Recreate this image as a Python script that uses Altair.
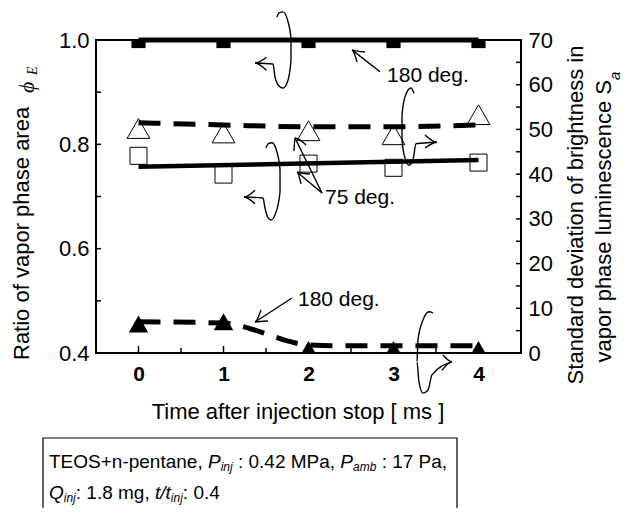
import altair as alt
import pandas as pd

FONT = "Liberation Sans, Arial, Helvetica, sans-serif"
SERIF = "Liberation Serif, Times New Roman, serif"

# ---------------- data ----------------
t = [0, 1, 2, 3, 4]
# left axis: ratio of vapor phase area phi_E
phi_180_pts = [0.998, 0.998, 0.998, 0.998, 0.998]
fit_x = [0, 4]
phi_180_fit = [1.0, 1.0]
phi_75_pts = [0.778, 0.742, 0.763, 0.755, 0.765]
phi_75_fit = [0.757, 0.770]
# right axis: standard deviation of brightness S_a
sa_75_pts = [50.2, 49.2, 49.7, 48.8, 53.3]
sa_75_fit_x = [0, 1, 2, 3, 4]
sa_75_fit = [51.5, 51.0, 50.6, 50.6, 51.0]
sa_180_pts = [6.5, 7.0, 0.8, 0.8, 0.8]
sa_180_fit_x = [0, 1, 1.25, 1.5, 1.75, 2, 2.5, 3, 4]
sa_180_fit = [7.0, 6.7, 5.8, 4.3, 2.7, 1.8, 1.6, 1.6, 1.6]

left_ticks_major = [0.4, 0.6, 0.8, 1.0]
left_ticks_minor = [0.5, 0.7, 0.9]
right_ticks_major = [0, 10, 20, 30, 40, 50, 60, 70]
right_ticks_minor = [5, 15, 25, 35, 45, 55, 65]
x_ticks_major = [0, 1, 2, 3, 4]
x_ticks_minor = [0.5, 1.5, 2.5, 3.5]

# annotation paths, in data units (time, left-axis value)
curl1_x = [1.371, 1.582, 1.606, 1.653, 1.700, 1.759, 1.794, 1.794, 1.759, 1.700, 1.653, 1.629]
curl1_y = [0.956, 0.954, 0.929, 0.912, 0.908, 0.923, 0.962, 1.004, 1.035, 1.054, 1.052, 1.044]
head1_x = [1.506, 1.371, 1.506]
head1_y = [0.967, 0.956, 0.942]
curl2_x = [1.241, 1.465, 1.488, 1.524, 1.559, 1.618, 1.665, 1.665, 1.629, 1.571, 1.524, 1.500]
curl2_y = [0.699, 0.697, 0.678, 0.659, 0.655, 0.670, 0.709, 0.751, 0.785, 0.803, 0.801, 0.793]
head2_x = [1.371, 1.241, 1.371]
head2_y = [0.712, 0.699, 0.686]
curl3_x = [3.241, 3.206, 3.135, 3.100, 3.100, 3.135, 3.182, 3.229, 3.265, 3.512]
curl3_y = [0.898, 0.908, 0.891, 0.856, 0.808, 0.774, 0.760, 0.770, 0.801, 0.804]
head3_x = [3.371, 3.512, 3.371]
head3_y = [0.818, 0.804, 0.793]
curl4_x = [3.465, 3.418, 3.347, 3.288, 3.276, 3.300, 3.347, 3.406, 3.453, 3.688]
curl4_y = [0.477, 0.479, 0.463, 0.425, 0.383, 0.344, 0.323, 0.329, 0.358, 0.383]
head4_x = [3.582, 3.688, 3.571]
head4_y = [0.396, 0.383, 0.367]
arrA_x = [2.841, 2.512]
arrA_y = [0.939, 0.981]
headA_x = [2.571, 2.512, 2.665]
headA_y = [0.958, 0.981, 0.977]
arrB_x = [1.806, 1.371]
arrB_y = [0.5054, 0.4594]
headB_x = [1.524, 1.371, 1.441]
headB_y = [0.4614, 0.4594, 0.4824]
arrC_x = [2.159, 1.841]
arrC_y = [0.7067, 0.8121]
headC_x = [1.829, 1.841, 1.971]
headC_y = [0.7872, 0.8121, 0.7987]
arrD_x = [2.159, 1.865]
arrD_y = [0.7067, 0.7470]
headD_x = [1.912, 1.865, 2.018]
headD_y = [0.7240, 0.7470, 0.7431]

labels_txt = ["180 deg.", "180 deg.", "75 deg."]
labels_x = [2.924, 1.876, 2.194]
labels_y = [0.931, 0.5016, 0.6971]

# ---------------- scales / axes ----------------
xs = alt.Scale(domain=[-0.5, 4.5], nice=False, zero=False)
yl = alt.Scale(domain=[0.4, 1.0], nice=False, zero=False)
yr = alt.Scale(domain=[0, 70], nice=False, zero=False)

x_axis = alt.Axis(values=x_ticks_major, format="d", ticks=False, tickSize=0, domain=False,
                  grid=False, title=None, labelFont=FONT, labelFontSize=21,
                  labelFontWeight="bold", labelPadding=10, labelColor="black")
yl_axis = alt.Axis(orient="left", values=left_ticks_major, format=".1f", ticks=False, tickSize=0,
                   domain=False, grid=False, title=None, labelFont=FONT, labelFontSize=22,
                   labelPadding=7, labelColor="black")
yr_axis = alt.Axis(orient="right", values=right_ticks_major, format="d", ticks=False, tickSize=0,
                   domain=False, grid=False, title=None, labelFont=FONT, labelFontSize=22,
                   labelPadding=7, labelColor="black")


def X():
    return alt.X("x:Q", scale=xs, axis=x_axis)


def YL():
    return alt.Y("y:Q", scale=yl, axis=yl_axis)


def YR():
    return alt.Y("y:Q", scale=yr, axis=yr_axis)


def df(xv, yv):
    return pd.DataFrame({"x": xv, "y": yv})


# ---------------- left-axis layers ----------------
l_line180 = alt.Chart(df(fit_x, phi_180_fit)).mark_line(color="black", strokeWidth=5).encode(
    x=X(), y=YL())
l_sq180 = alt.Chart(df(t, phi_180_pts)).mark_square(color="black", size=200, clip=True, opacity=1).encode(
    x=X(), y=YL())
l_line75 = alt.Chart(df(fit_x, phi_75_fit)).mark_line(color="black", strokeWidth=4.5).encode(
    x=X(), y=YL())
l_sq75 = alt.Chart(df(t, phi_75_pts)).mark_point(shape="square", filled=False, size=290,
                                                  color="black", strokeWidth=1, opacity=1).encode(
    x=X(), y=YL())

paths = [
    (curl1_x, curl1_y), (head1_x, head1_y),
    (curl2_x, curl2_y), (head2_x, head2_y),
    (curl3_x, curl3_y), (head3_x, head3_y),
    (curl4_x, curl4_y), (head4_x, head4_y),
    (arrA_x, arrA_y), (headA_x, headA_y),
    (arrB_x, arrB_y), (headB_x, headB_y),
    (arrC_x, arrC_y), (headC_x, headC_y),
    (arrD_x, arrD_y), (headD_x, headD_y),
]
rows = []
for i, (px, py) in enumerate(paths):
    for j, (a, b) in enumerate(zip(px, py)):
        rows.append({"x": a, "y": b, "p": i, "o": j})
ann_df = pd.DataFrame(rows)
l_ann = alt.Chart(ann_df).mark_line(color="black", strokeWidth=1.4, interpolate="monotone",
                                    clip=False).encode(
    x=X(), y=YL(), detail="p:N", order="o:Q")

l_lab = alt.Chart(pd.DataFrame({"x": labels_x, "y": labels_y, "s": labels_txt})).mark_text(
    align="left", baseline="middle", font=FONT, fontSize=21, color="black").encode(
    x=X(), y=YL(), text="s:N")

l_tmaj = alt.Chart(pd.DataFrame({"y": left_ticks_major})).mark_rule(color="black", strokeWidth=1.5).encode(
    y=YL(), x=alt.value(0), x2=alt.value(5))
l_tmin = alt.Chart(pd.DataFrame({"y": left_ticks_minor})).mark_rule(color="black", strokeWidth=1.5).encode(
    y=YL(), x=alt.value(0), x2=alt.value(5))
x_tmaj = alt.Chart(pd.DataFrame({"x": x_ticks_major})).mark_rule(color="black", strokeWidth=1.5).encode(
    x=X(), y=alt.value(306), y2=alt.value(313))
x_tmin = alt.Chart(pd.DataFrame({"x": x_ticks_minor})).mark_rule(color="black", strokeWidth=1.5).encode(
    x=X(), y=alt.value(308), y2=alt.value(313))

left = alt.layer(l_line180, l_sq180, l_line75, l_sq75, l_ann, l_lab, l_tmaj, l_tmin, x_tmaj, x_tmin)

# ---------------- right-axis layers ----------------
r_line75 = alt.Chart(df(sa_75_fit_x, sa_75_fit)).mark_line(
    color="black", strokeWidth=5, strokeDash=[22, 13], interpolate="monotone").encode(
    x=X(), y=YR())
r_tri75 = alt.Chart(df(t, sa_75_pts)).mark_point(shape="triangle-up", filled=False, size=520,
                                                  color="black", strokeWidth=1, opacity=1).encode(
    x=X(), y=YR())
r_line180 = alt.Chart(df(sa_180_fit_x, sa_180_fit)).mark_line(
    color="black", strokeWidth=5, strokeDash=[22, 13], interpolate="monotone").encode(
    x=X(), y=YR())
r_tri180 = alt.Chart(df(t, sa_180_pts)).mark_point(shape="triangle-up", filled=True, size=380,
                                                    color="black", opacity=1, clip=True).encode(
    x=X(), y=YR())
r_tmaj = alt.Chart(pd.DataFrame({"y": right_ticks_major})).mark_rule(color="black", strokeWidth=1.5).encode(
    y=YR(), x=alt.value(420), x2=alt.value(425))
r_tmin = alt.Chart(pd.DataFrame({"y": right_ticks_minor})).mark_rule(color="black", strokeWidth=1.5).encode(
    y=YR(), x=alt.value(420), x2=alt.value(425))

right = alt.layer(r_line75, r_tri75, r_line180, r_tri180, r_tmaj, r_tmin)


# ---------------- titles and info box (page layout) ----------------
def txt(s, px, py, size=22, style="normal", angle=0, align="left", font=FONT):
    return alt.Chart(pd.DataFrame({"s": [s]})).mark_text(
        align=align, baseline="middle", angle=angle, fontSize=size, fontStyle=style,
        font=font, color="black").encode(x=alt.value(px), y=alt.value(py), text="s:N")


ARIAL_W = {" ": 278, "+": 584, ",": 278, "-": 333, ".": 278, "/": 278, ":": 278,
           "E": 667, "M": 833, "O": 778, "P": 667, "Q": 778, "S": 667, "T": 611,
           "a": 556, "b": 556, "e": 556, "g": 556, "i": 222, "j": 222, "m": 833,
           "n": 556, "p": 556, "t": 278}


def width(s, size):
    return sum(ARIAL_W.get(c, 556) for c in s) * size / 1000.0


def seq(pieces, x0, y0):
    out = []
    x = x0
    for s, size, style, dy in pieces:
        lead = len(s) - len(s.lstrip(" "))
        out.append(txt(s.strip(" "), x + width(" " * lead, size), y0 + dy, size=size, style=style))
        x += width(s, size)
    return out


FS, SUB = 19, 12
line1 = [("TEOS+n-pentane, ", FS, "normal", 0), ("P", FS, "italic", 0), ("inj", SUB, "italic", 5),
         (" : 0.42 MPa, ", FS, "normal", 0), ("P", FS, "italic", 0), ("amb", SUB, "italic", 5),
         (" : 17 Pa,", FS, "normal", 0)]
line2 = [("Q", FS, "italic", 0), ("inj", SUB, "italic", 5), (": 1.8 mg, ", FS, "normal", 0),
         ("t/t", FS, "italic", 0), ("inj", SUB, "italic", 5), (": 0.4", FS, "normal", 0)]

texts = [
    txt("Ratio of vapor phase area", -74, 320, angle=270),
    txt("ϕ", -69, 53, style="italic", angle=270, font=SERIF),
    txt("E", -63, 35, size=14, style="italic", angle=270, font=SERIF),
    txt("Standard deviation of brightness in", 480, 175, angle=270, align="center"),
    txt("vapor phase luminescence S", 508, 40, angle=270, align="right"),
    txt("a", 519, 40, size=15, style="italic", angle=270),
    txt("Time after injection stop [ ms ]", 202, 372, align="center"),
] + seq(line1, -47, 422) + seq(line2, -47, 453)

box = alt.Chart(pd.DataFrame({"a": [0]})).mark_rect(
    fill="white", fillOpacity=0, stroke="black", strokeWidth=1.2).encode(
    x=alt.value(-53), x2=alt.value(361), y=alt.value(398), y2=alt.value(480))

deco = alt.layer(box, *texts)

chart = alt.layer(left, right, deco).resolve_scale(y="independent").properties(
    width=425, height=313,
    padding={"left": 88, "top": 32, "right": 107, "bottom": 155},
    autosize=alt.AutoSizeParams(type="none"),
).configure_view(stroke="black", strokeWidth=2)

chart.save("out.html", embed_options={"renderer": "svg", "actions": False})
